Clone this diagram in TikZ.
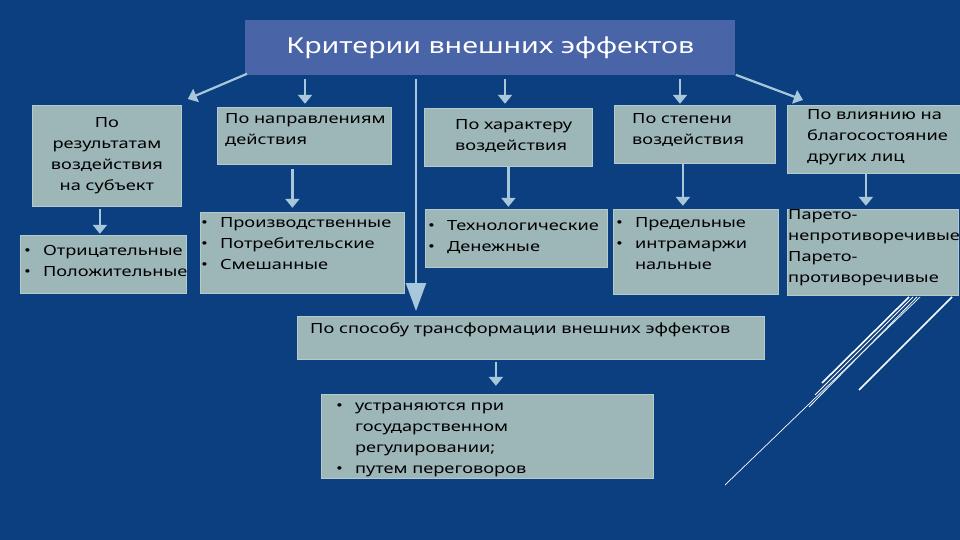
\documentclass[tikz,border=0pt]{standalone}
\usepackage{fontspec}
\setmainfont[FakeStretch=1.3]{Noto Sans}
\usetikzlibrary{arrows.meta,calc}
\definecolor{bg}{HTML}{0B3F80}
\definecolor{ttl}{HTML}{4A64A8}
\definecolor{boxfill}{HTML}{9DB6B8}
\definecolor{boxline}{HTML}{B5CACB}
\definecolor{arr}{HTML}{A9C7DA}
\tikzset{
 box/.style={draw=boxline,fill=boxfill,anchor=north west,inner sep=0pt,line width=0.8pt,text=black},
 lbl/.style={anchor=north west,inner sep=0pt,align=left,font=\fontsize{14}{21}\selectfont},
 con/.style={draw=arr,line width=2.2pt,-{Triangle[length=9pt,width=14pt]}},
 deco/.style={draw=white,line width=1.6pt}
}
\newcommand{\blist}[1]{\begin{tabular}{@{}l@{\hspace{12pt}}l@{}}#1\end{tabular}}
\begin{document}
\begin{tikzpicture}[x=1pt,y=1pt]
\fill[bg] (0,0) rectangle (960,-540);
\useasboundingbox (0,0) rectangle (960,-540);
\node[box,draw=none,fill=ttl,minimum width=490,minimum height=55,text=white,font=\fontsize{22}{26}\selectfont] (title) at (245,-20) {Критерии внешних эффектов};
\node[box,minimum width=149,minimum height=101,align=center,font=\fontsize{14}{21}\selectfont] (p1) at (32,-105) {По\\результатам\\воздействия\\на субъект};
\node[box,minimum width=174,minimum height=57] (p2) at (217,-107) {};
\node[lbl] at (225,-113) {По направлениям\\действия};
\node[box,minimum width=168,minimum height=58] (p3) at (424,-108) {};
\node[lbl] at (455,-119) {По характеру\\воздействия};
\node[box,minimum width=161,minimum height=58] (p4) at (614,-105) {};
\node[lbl] at (632,-113) {По степени\\воздействия};
\node[box,minimum width=173,minimum height=68] (p5) at (787,-105) {};
\node[lbl] at (807,-109) {По влиянию на\\благосостояние\\других лиц};
\node[box,minimum width=166,minimum height=58] (l1) at (20,-235) {};
\node[lbl] at (24,-241) {\blist{•&Отрицательные\\•&Положительные}};
\node[box,minimum width=204,minimum height=81] (l2) at (200,-212) {};
\node[lbl] at (201,-213) {\blist{•&Производственные\\•&Потребительские\\•&Смешанные}};
\node[box,minimum width=182,minimum height=58] (l3) at (425,-209) {};
\node[lbl] at (428,-216) {\blist{•&Технологические\\•&Денежные}};
\node[box,minimum width=165,minimum height=85] (l4) at (613,-209) {};
\node[lbl] at (616,-213) {\blist{•&Предельные\\•&интрамаржи\\&нальные}};
\node[box,minimum width=171,minimum height=86] (l5) at (787,-209) {};
\node[lbl] at (788,-209) {Парето-\\непротиворечивые\\Парето-\\противоречивые};
\node[box,minimum width=467,minimum height=43] (t) at (297,-316) {};
\node[lbl] at (310,-323) {По способу трансформации внешних эффектов};
\node[box,minimum width=332,minimum height=84] (b) at (321,-394) {};
\node[lbl] at (336,-396) {\blist{•&устраняются при\\&государственном\\&регулировании;\\•&путем переговоров}};
\draw[con] ($(title.south west)+(2,2)$) -- ($(p1.north east)+(6,6)$);
\draw[con] ($(title.south west)+(60,-3)$) -- ($(title.south west)+(60,-28)$);
\draw[con] ($(title.south west)+(260,-3)$) -- ($(title.south west)+(260,-28)$);
\draw[con] ($(title.south west)+(435,-3)$) -- ($(title.south west)+(435,-28)$);
\draw[con] ($(title.south east)+(0,1)$) -- ($(p5.north west)+(16,5)$);
\draw[draw=arr,line width=2.2pt,-{Triangle[length=28pt,width=20pt]}] ($(title.south west)+(171,-3)$) -- ($(t.north west)+(119,5)$);
\draw[con] ($(p1.south)+(-7,-2)$) -- ($(p1.south)+(-7,-27)$);
\draw[con] ($(p2.south)+(-12,-4)$) -- ($(p2.south)+(-12,-43)$);
\draw[con] ($(p3.south)+(0,0)$) -- ($(p3.south)+(0,-40)$);
\draw[con] ($(p4.south)+(-12,0)$) -- ($(p4.south)+(-12,-42)$);
\draw[con] ($(p5.south)+(-8,0)$) -- ($(p5.south)+(-8,-32)$);
\draw[con] ($(t.south)+(-35,-2)$) -- ($(t.south)+(-35,-26)$);
\draw[draw=white,line width=0.7pt] (725,-485) -- (920,-297);
\draw[deco] (822,-383) -- (909,-297);
\draw[deco] (859,-390) -- (952,-297);
\draw[draw=white,line width=0.8pt] (809,-407) -- (917,-297);
\draw[draw=white,line width=0.8pt] (815,-395) -- (913,-297);
\end{tikzpicture}
\end{document}
